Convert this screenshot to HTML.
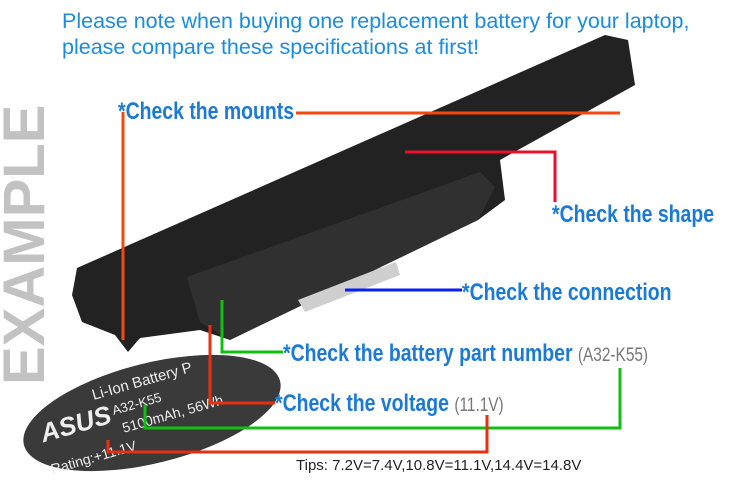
<!DOCTYPE html>
<html><head><meta charset="utf-8"><style>
body{margin:0;width:730px;height:480px;background:#fff;overflow:hidden;position:relative;font-family:"Liberation Sans",sans-serif}
.t{position:absolute;white-space:nowrap}
.h{font-weight:bold;color:#1a7ad6;font-size:24px;transform:scaleX(0.81);transform-origin:0 0}
.g{color:#777;font-size:19px;font-weight:normal}
</style></head><body>
<svg width="730" height="480" style="position:absolute;left:0;top:0">
<polygon points="77,268 605,35 628,40 635,85 500,160 505,200 478,220 230,340 200,330 140,338 128,352 115,335 82,322 72,295" fill="#222"/>
<polygon points="187,277 480,172 495,187 478,220 230,340 200,322" fill="#303030"/>
<polygon points="298,300 396,262 400,275 305,312" fill="#cfcfcf"/>
<ellipse cx="152" cy="413" rx="132" ry="50" transform="rotate(-14 152 413)" fill="#3a3a3a"/>
<g fill="#eee" font-family="Liberation Sans,sans-serif" transform="rotate(-16 150 415)">
<text x="40" y="412" font-size="26" font-weight="bold" font-style="italic">ASUS</text>
<text x="100" y="385" font-size="15">Li-Ion Battery P</text>
<text x="115" y="405" font-size="13">A32-K55</text>
<text x="120" y="425" font-size="14">5100mAh, 56Wh</text>
<text x="40" y="445" font-size="14">Rating:+11.1V</text>
</g>
<text x="44" y="385" transform="rotate(-90 44 385)" font-family="Liberation Sans,sans-serif" font-weight="bold" font-size="58" fill="#c2c2c2">EXAMPLE</text>
<g fill="none" stroke-width="3">
<polyline points="296,113 620,113" stroke="#f04a10"/>
<polyline points="123,112 123,340" stroke="#f04a10"/>
<polyline points="405,152 555,152 555,202" stroke="#e8102a"/>
<polyline points="345,290 462,290" stroke="#0820f0"/>
<polyline points="222,300 222,352 283,352" stroke="#10c010"/>
<polyline points="210,325 210,403 275,403" stroke="#e83010"/>
<polyline points="145,405 145,428 620,428 620,368" stroke="#10c010"/>
<polyline points="108,440 108,452 487,452 487,415" stroke="#e83010"/>
</g>
</svg>
<div class="t" style="left:62px;top:8px;font-size:21.5px;color:#1a8ce0;line-height:26px">Please note when buying one replacement battery for your laptop,<br>please compare these specifications at first!</div>
<div class="t h" style="left:118px;top:98px">*Check the mounts</div>
<div class="t h" style="left:552px;top:201px">*Check the shape</div>
<div class="t h" style="left:462px;top:279px">*Check the connection</div>
<div class="t h" style="left:283px;top:340px">*Check the battery part number <span class="g">(A32-K55)</span></div>
<div class="t h" style="left:275px;top:390px">*Check the voltage <span class="g">(11.1V)</span></div>
<div class="t" style="left:296px;top:457px;font-size:15px;color:#222">Tips: 7.2V=7.4V,10.8V=11.1V,14.4V=14.8V</div>
</body></html>
